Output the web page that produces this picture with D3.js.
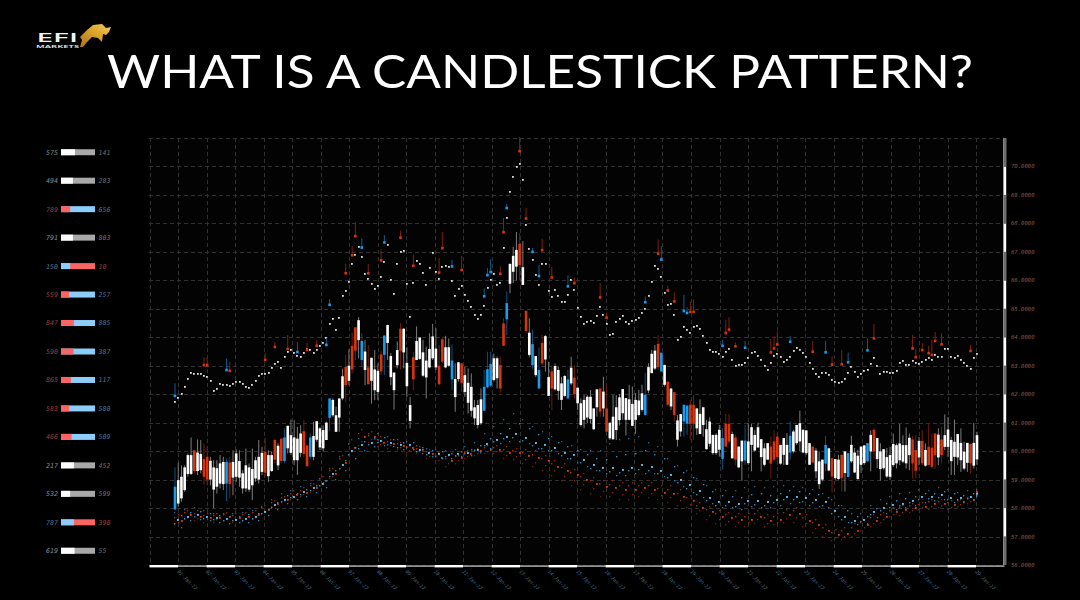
<!DOCTYPE html>
<html><head><meta charset="utf-8">
<script src="https://cdn.jsdelivr.net/npm/d3@7"></script>
<style>html,body{margin:0;padding:0;background:#000;overflow:hidden}svg{display:block}</style>
</head><body><div id="chart"></div>
<script>
const priceTicks=[70,69,68,67,66,65,64,63,62,61,60,59,58,57,56];
const dayLabels=["01","02","03","04","05","06","07","08","09","10","11","12","13","14","15","16","17","18","19","20","21","22","23","24","25","26","27","28","29"].map(d=>d+"-Jan-17");
const leftValues=["575","494","789","791","150","559","847","590","865","583","466","217","532","787","619"];
const rightValues=["141","283","656","803","10","257","885","387","117","580","509","452","599","390","55"];
const rowKinds=["w","w","r","w","b","r","r","r","r","r","r","w","w","b","w"];
const rowShares=[.41,.35,.27,.35,.27,.24,.38,.37,.29,.24,.31,.38,.27,.38,.40];
const blueCandles=[0,16,34,42,48,58,65,86,96,97,98,103,111,113,122,146,151,158,159,170,177,191,202,209,215];
const redCandles=[6,9,10,17,28,31,33,40,41,53,55,56,60,64,70,74,82,83,89,101,102,107,109,114,117,124,132,134,150,153,155,160,161,171,172,174,185,186,187,198,204,207,217,229,230,232,234,235,236,238,247];
const bodyTop=[58.75,58.98,59.1,59.43,59.86,59.86,60.03,59.95,59.9,59.72,
59.8,59.66,59.43,59.4,59.57,59.62,59.62,59.6,59.62,59.92,
59.65,59.22,59.5,59.43,59.37,59.68,59.8,59.94,59.98,59.86,
59.86,60.39,60.19,60.44,60.48,60.89,60.56,60.48,60.44,60.62,
60.7,60.2,60.48,60.53,61.05,60.8,60.74,61.0,61.85,61.8,
61.26,61.85,62.63,62.96,63.0,63.7,64.35,64.6,63.87,63.5,
62.94,63.28,62.87,62.82,63.4,64.06,64.43,63.34,62.76,63.55,
64.3,64.3,63.1,61.62,63.3,63.87,63.99,63.47,63.18,63.59,
64.03,63.6,63.0,63.93,63.65,63.65,63.18,62.53,63.12,63.08,
62.67,62.4,62.26,61.54,61.62,61.82,62.26,62.88,63.06,63.26,
63.26,63.02,64.49,65.2,66.58,66.86,67.07,67.28,66.46,64.93,
64.16,63.76,63.34,62.85,63.8,64.04,62.6,62.8,62.99,62.85,
62.38,62.64,62.52,62.93,62.58,62.23,61.68,61.8,61.91,61.91,
61.5,62.17,62.2,62.09,61.5,61.0,61.21,61.54,61.89,62.18,
61.86,61.82,61.66,61.8,61.78,62.03,61.98,62.95,63.42,63.53,
63.77,63.46,63.03,62.44,62.2,62.07,61.08,61.3,61.63,61.6,
61.63,61.63,61.5,61.31,61.54,60.77,61.04,60.57,60.57,60.75,
60.46,60.96,60.96,60.6,60.48,60.16,60.37,60.37,60.34,60.84,
60.57,60.84,60.42,60.1,60.28,60.16,60.34,60.51,60.22,60.46,
60.22,60.54,60.69,60.92,60.98,60.75,60.73,60.28,60.16,60.02,
59.64,59.7,60.22,60.1,59.75,59.72,59.7,59.87,59.99,59.93,
60.22,59.95,59.84,60.16,60.2,60.28,60.57,60.75,60.46,59.99,
60.07,59.79,59.86,60.25,60.21,60.27,60.21,60.21,60.47,60.41,
60.04,60.36,60.36,60.04,60.15,60.12,60.62,60.58,60.41,60.56,
60.76,60.39,60.33,60.6,60.29,59.98,60.29,60.25,60.29,60.56];
const bodyBottom=[57.95,58.16,58.34,58.63,59.2,59.2,59.3,59.3,59.33,59.1,
59.0,59.0,58.65,58.75,58.86,58.84,58.86,58.84,59.07,59.1,
59.07,58.69,58.69,58.65,58.8,59.04,59.0,59.27,59.24,59.12,
59.3,59.7,59.5,59.65,59.65,60.1,59.94,59.68,59.68,59.94,
59.9,59.47,59.8,59.8,60.4,60.13,60.1,60.39,61.17,61.26,
60.68,61.18,61.85,62.32,62.47,62.87,63.53,63.9,63.2,62.85,
62.35,62.47,62.14,62.08,62.8,63.38,63.8,62.6,62.14,63.02,
63.53,63.47,62.28,61.06,62.52,63.2,63.24,62.65,62.59,62.94,
63.26,62.94,62.35,63.14,62.94,63.0,62.52,61.9,62.53,62.4,
62.08,61.7,61.42,61.15,60.92,60.98,61.42,62.24,62.3,62.5,
62.56,62.2,63.7,64.63,65.88,66.3,66.48,66.54,65.84,64.22,
63.38,63.02,62.67,62.2,63.08,63.22,61.94,62.2,62.17,62.12,
61.8,61.94,61.85,62.38,62.0,61.68,60.92,61.1,61.18,61.13,
60.77,61.54,61.39,61.5,60.68,60.45,60.42,60.74,61.09,61.33,
61.1,61.1,60.89,61.1,61.27,61.45,61.27,62.13,62.74,62.9,
62.95,62.8,62.33,61.63,61.57,61.27,60.4,60.69,61.04,60.96,
60.96,60.96,60.8,60.6,60.92,60.07,60.26,59.93,59.93,60.05,
59.73,60.16,60.34,59.75,59.7,59.43,59.64,59.67,59.58,60.22,
60.02,60.13,59.79,59.52,59.7,59.56,59.7,59.79,59.56,59.87,
59.52,59.95,59.99,60.28,60.34,59.95,59.93,59.52,59.6,59.29,
58.84,59.0,59.56,59.32,59.11,59.05,59.02,59.05,59.23,59.09,
59.64,59.25,59.02,59.52,59.58,59.64,59.99,59.99,59.72,59.37,
59.4,59.11,59.1,59.51,59.57,59.68,59.63,59.57,59.86,59.57,
59.31,59.78,59.57,59.49,59.51,59.45,59.86,59.78,59.86,60.15,
60.15,59.65,59.8,59.78,59.68,59.39,59.59,59.57,59.49,59.71];
const wickHigh=[59.43,59.6,59.5,59.5,59.92,60.48,60.03,60.41,60.39,60.27,
60.15,59.8,59.68,59.68,59.86,59.8,59.74,59.8,60.03,60.06,
60.03,59.33,60.09,59.57,60.09,59.8,60.39,60.15,60.48,60.03,
59.98,60.44,60.27,60.44,60.8,60.89,61.11,61.09,60.85,60.91,
61.09,60.21,60.62,61.03,61.05,60.85,60.91,61.03,61.85,61.85,
61.56,61.85,62.9,63.38,63.58,64.16,64.35,64.71,64.14,63.91,
63.73,63.28,63.55,63.08,63.53,64.08,64.44,63.44,62.76,63.85,
64.49,64.32,63.65,61.9,63.49,64.38,63.99,63.91,63.67,64.14,
64.47,64.32,63.73,64.02,64.05,63.96,63.75,63.08,63.12,63.08,
62.96,62.91,62.73,61.8,61.8,62.2,62.85,63.49,63.49,63.43,
63.32,63.32,64.67,65.6,66.58,67.17,67.7,67.66,67.38,64.93,
64.67,64.27,63.34,63.64,64.08,64.08,63.14,63.02,63.08,62.96,
62.61,62.67,62.85,63.32,63.02,62.23,61.85,61.97,61.97,62.15,
61.5,62.17,62.2,62.61,62.32,61.0,61.97,61.97,62.0,62.18,
61.86,62.33,62.27,62.04,62.15,62.33,62.74,63.09,63.56,63.73,
64.08,63.46,63.03,62.44,62.2,62.07,61.27,61.3,61.63,61.63,
61.8,61.98,61.5,61.82,61.54,61.1,61.19,60.57,60.63,60.92,
60.81,61.31,61.31,60.69,60.57,60.16,60.37,60.92,60.98,60.96,
60.75,61.0,60.42,60.28,60.28,60.51,60.73,60.63,60.22,60.46,
60.63,61.04,60.75,60.92,61.42,60.77,60.73,60.28,60.16,60.11,
59.99,59.7,60.54,60.1,59.75,59.72,59.87,59.87,59.99,59.93,
60.54,60.11,60.05,60.16,60.22,60.28,60.73,60.81,60.46,60.28,
60.07,60.11,60.15,60.62,60.27,60.95,60.56,60.83,60.62,60.53,
60.56,60.5,60.74,60.27,60.95,60.62,60.62,60.8,60.85,61.29,
61.2,60.5,61.11,60.6,60.8,60.33,60.29,60.25,60.99,60.68];
const wickLow=[57.95,58.05,58.22,58.57,59.1,59.16,59.22,59.16,59.22,58.8,
58.8,58.8,57.99,58.51,58.69,58.63,58.24,58.34,58.45,58.92,
58.75,58.51,58.57,58.57,58.28,58.92,58.86,59.16,59.1,58.92,
59.27,59.57,59.33,59.57,59.57,59.92,59.86,59.51,59.16,59.8,
59.8,59.47,59.71,59.68,60.33,60.04,59.98,60.39,60.71,61.21,
60.68,60.68,61.79,61.73,62.32,62.73,63.2,63.26,62.96,62.32,
62.35,61.67,61.79,61.79,62.67,62.67,63.2,62.32,61.46,62.91,
62.87,62.91,61.91,60.8,62.14,63.2,63.2,62.61,61.85,62.91,
63.2,62.85,62.32,63.08,62.91,62.96,62.14,61.38,62.44,62.08,
61.91,61.32,61.21,60.92,60.8,60.92,61.42,62.2,62.26,62.44,
62.2,62.05,63.7,64.08,65.55,65.9,66.0,66.0,65.84,64.14,
63.3,62.9,62.61,62.2,63.02,62.79,61.94,61.44,62.12,61.8,
61.44,61.91,61.85,62.32,61.85,61.44,60.86,60.8,60.98,60.98,
60.74,61.21,61.21,61.21,60.68,60.39,60.39,60.39,60.9,61.1,
60.55,61.08,60.87,60.61,61.22,61.39,61.27,62.04,62.74,62.85,
62.85,62.8,62.27,61.57,61.45,61.04,60.16,60.51,60.51,60.57,
60.4,60.4,60.57,60.6,60.51,60.05,60.16,59.87,59.87,59.81,
59.35,60.16,60.28,59.72,59.52,59.4,58.96,59.52,59.52,59.29,
59.99,60.11,59.29,59.46,59.7,59.05,59.64,59.52,59.52,59.52,
59.52,59.7,59.93,60.22,59.99,59.93,59.87,59.52,59.58,59.05,
58.67,58.94,59.29,59.29,58.55,58.99,58.99,58.58,58.58,59.09,
59.58,59.23,58.99,59.23,59.52,59.64,59.29,59.72,59.4,58.96,
59.35,59.05,58.98,59.45,59.39,59.51,59.57,59.39,59.33,59.04,
59.04,59.51,59.51,59.45,59.51,59.39,59.39,59.51,59.57,60.04,
59.8,59.16,59.16,59.51,59.27,59.33,59.27,59.22,59.39,59.51];
const upperDots=[61.74,61.87,62.0,62.26,62.52,62.75,62.73,62.72,62.72,62.66,
62.61,62.46,62.1,62.19,62.37,62.34,62.32,62.3,62.35,62.44,
62.44,62.35,62.26,62.22,62.31,62.47,62.65,62.7,62.7,62.75,
62.94,63.05,63.14,62.94,63.3,63.5,63.55,63.45,63.35,63.3,
63.45,63.6,63.55,63.45,63.55,63.7,63.8,63.99,64.47,64.63,
64.26,64.68,65.45,65.64,65.96,66.56,66.88,67.18,66.84,66.23,
66.04,65.89,65.71,65.82,66.13,66.66,67.25,66.02,65.52,66.58,
67.01,67.02,65.88,64.73,65.91,66.68,66.58,66.25,65.84,66.44,
66.95,66.31,66.05,66.46,66.52,66.47,65.98,65.47,65.7,65.81,
65.5,65.29,65.08,64.79,64.64,64.8,65.1,65.72,66.02,66.22,
65.84,65.9,67.15,68.2,69.1,69.62,69.97,70.1,69.53,67.95,
67.12,66.71,66.19,65.83,66.57,66.59,65.63,65.43,65.66,65.47,
65.24,65.24,65.5,66.0,65.68,65.03,64.7,64.47,64.54,64.57,
64.52,64.76,65.08,64.79,64.47,64.07,64.12,64.55,64.66,64.76,
64.55,64.47,64.56,64.61,64.69,64.84,64.99,65.46,65.95,66.49,
66.4,66.12,65.57,65.15,65.17,64.8,63.89,64.01,64.37,64.27,
64.16,64.37,64.4,64.29,64.06,63.79,63.56,63.49,63.49,63.43,
63.32,63.49,63.59,63.2,62.99,63.04,63.04,63.11,63.26,63.45,
63.5,63.33,63.19,63.0,62.85,63.11,63.33,63.42,63.31,63.13,
63.19,63.32,63.51,63.61,63.54,63.45,63.32,63.11,62.88,62.7,
62.61,62.75,62.76,62.69,62.51,62.42,62.41,62.42,62.54,62.75,
62.95,62.77,62.61,62.7,62.81,62.84,63.06,63.29,63.01,62.73,
62.78,62.78,62.75,62.76,62.83,63.1,63.17,63.04,63.04,63.17,
63.09,63.05,63.12,63.2,63.28,63.2,63.38,63.3,63.3,63.59,
63.6,63.3,63.27,63.34,63.2,63.1,62.98,62.9,63.26,63.41];
const redSignalAt=[9,10,17,28,31,35,41,44,53,55,56,60,64,70,74,82,83,89,101,102,107,109,114,117,124,132,134,150,153,155,160,161,171,172,174,185,186,187,198,204,207,217,229,230,232,234,235,236,238,247];
const redSignalBase=[63.02,63.02,62.82,63.2,63.66,63.59,63.55,63.7,66.25,66.88,67.55,66.25,66.7,67.5,66.51,66.27,67.13,66.36,66.23,67.69,70.54,68.17,67.06,66.1,65.9,65.4,64.69,66.94,65.64,65.26,64.89,64.89,64.15,64.27,63.68,63.47,63.61,63.75,63.49,63.04,63.05,63.96,63.61,63.3,63.55,63.44,63.38,63.87,63.75,63.52];
const redSignalTip=[63.3,63.3,63.14,63.45,63.83,64.08,63.8,63.9,66.58,67.21,68.04,66.58,67.09,67.74,66.9,66.78,67.69,66.86,66.49,68.19,71.03,68.54,67.46,66.46,66.1,65.9,64.87,67.44,65.81,65.58,65.25,65.33,64.61,64.7,63.82,63.93,64.05,64.2,63.87,63.32,63.56,64.46,64.08,63.58,63.79,63.7,63.91,64.18,64.14,63.73];
const blueSignalAt=[0,16,38,47,48,58,65,86,96,97,98,103,111,113,122,146,151,158,159,170,177,191,202,209,215];
const blueSignalBase=[61.94,62.85,63.48,63.73,65.14,67.15,67.33,66.49,65.44,66.18,66.29,68.54,67.0,66.15,65.79,65.23,66.73,64.92,64.85,63.7,63.63,63.84,63.47,63.12,63.54];
const blueSignalTip=[62.38,63.25,63.83,63.97,65.34,67.48,67.59,66.72,65.72,66.43,66.74,68.69,67.13,66.54,66.17,65.43,67.2,65.49,65.05,63.91,63.87,64.05,63.87,63.46,63.96];
const blueUpper=[57.85,57.95,58.0,57.9,57.8,57.8,57.8,57.85,57.9,58.05,58.3,58.5,58.6,58.75,58.85,59.05,59.4,59.8,60.25,60.45,60.55,60.6,60.5,60.4,60.35,60.2,60.1,60.05,60.0,60.05,60.15,60.3,60.6,60.85,61.1,61.3,61.1,60.85,60.7,60.5,60.35,60.2,60.05,60.0,60.0,60.25,60.4,60.45,60.5,60.3,60.15,59.75,59.5,59.3,59.05,58.8,58.65,58.6,58.6,58.7,58.75,58.7,58.75,58.8,58.75,58.7,58.65,58.5,58.3,58.1,57.8,57.8,58.1,58.3,58.4,58.5,58.55,58.65,58.6,58.7,58.65,58.55,58.6,58.65];
const blueInner=[57.72,57.82,57.88,57.8,57.72,57.7,57.7,57.75,57.8,57.95,58.2,58.42,58.5,58.65,58.78,58.95,59.3,59.65,60.12,60.32,60.42,60.48,60.4,60.3,60.28,60.12,60.02,59.98,59.92,59.98,60.05,60.18,60.42,60.62,60.8,60.95,60.78,60.58,60.45,60.3,60.15,60.02,59.88,59.75,59.7,59.82,59.88,59.92,60.0,59.88,59.72,59.45,59.25,59.05,58.82,58.58,58.42,58.4,58.38,58.48,58.5,58.45,58.52,58.6,58.58,58.52,58.48,58.35,58.1,57.9,57.68,57.7,57.98,58.15,58.25,58.32,58.4,58.52,58.5,58.58,58.5,58.45,58.5,58.58];
const blueMiddle=[57.6,57.7,57.75,57.7,57.65,57.62,57.6,57.62,57.7,57.85,58.1,58.3,58.4,58.55,58.7,58.85,59.2,59.5,60.0,60.2,60.3,60.35,60.3,60.2,60.2,60.05,59.95,59.9,59.85,59.9,59.95,60.05,60.25,60.4,60.5,60.6,60.45,60.3,60.2,60.1,59.95,59.85,59.7,59.5,59.4,59.4,59.35,59.4,59.5,59.45,59.3,59.15,59.0,58.8,58.6,58.35,58.2,58.2,58.15,58.25,58.25,58.2,58.3,58.4,58.4,58.35,58.3,58.2,57.9,57.7,57.55,57.6,57.85,58.0,58.1,58.15,58.25,58.4,58.4,58.45,58.35,58.35,58.4,58.5];
const blueBelow=[57.45,57.62,57.68,57.62,57.58,57.54,57.55,57.56,57.62,57.8,58.02,58.22,58.35,58.48,58.62,58.78,59.1,59.4,59.88,60.1,60.22,60.28,60.22,60.12,60.12,59.98,59.88,59.82,59.8,59.85,59.9,60.0,60.18,60.32,60.42,60.48,60.35,60.2,60.1,60.0,59.85,59.72,59.58,59.4,59.3,59.28,59.25,59.3,59.35,59.32,59.2,59.05,58.88,58.68,58.48,58.25,58.1,58.1,58.05,58.15,58.12,58.1,58.2,58.28,58.3,58.22,58.18,58.1,57.8,57.6,57.48,57.52,57.75,57.9,58.02,58.08,58.18,58.3,58.32,58.38,58.28,58.28,58.32,58.45];
const blueLower=[57.3,57.55,57.6,57.55,57.5,57.45,57.5,57.5,57.55,57.75,57.95,58.15,58.3,58.4,58.55,58.7,59.0,59.3,59.75,60.0,60.15,60.2,60.15,60.05,60.05,59.9,59.8,59.75,59.75,59.8,59.85,59.95,60.1,60.25,60.35,60.35,60.25,60.1,60.0,59.9,59.75,59.6,59.45,59.3,59.2,59.15,59.15,59.2,59.2,59.2,59.1,58.95,58.75,58.55,58.35,58.15,58.0,58.0,57.95,58.05,58.0,58.0,58.1,58.15,58.2,58.1,58.05,58.0,57.7,57.5,57.4,57.45,57.65,57.8,57.95,58.0,58.1,58.2,58.25,58.3,58.2,58.2,58.25,58.4];
const redUpper=[57.75,57.9,57.9,57.8,57.8,57.85,57.8,57.85,57.9,58.1,58.25,58.4,58.6,58.7,58.85,59.1,59.4,59.85,60.4,60.75,60.7,60.5,60.4,60.3,60.2,60.15,60.05,59.95,59.85,59.85,60.0,60.1,60.2,60.2,60.15,60.1,60.05,60.0,59.85,59.65,59.55,59.35,59.2,59.05,58.95,58.95,58.9,58.9,58.9,58.9,58.8,58.8,58.65,58.45,58.2,58.05,57.9,57.85,57.8,57.8,57.9,57.75,57.8,57.95,58.0,57.75,57.6,57.4,57.25,57.3,57.45,57.6,57.75,57.85,58.0,58.1,58.15,58.2,58.3,58.3,58.25,58.3,58.4,58.6];
const redInner=[57.65,57.82,57.8,57.72,57.72,57.78,57.72,57.78,57.82,58.02,58.2,58.35,58.52,58.62,58.78,59.02,59.3,59.72,60.25,60.62,60.6,60.4,60.32,60.25,60.15,60.1,59.98,59.85,59.75,59.8,59.95,60.05,60.12,60.12,60.05,60.02,59.95,59.88,59.75,59.55,59.42,59.25,59.1,58.95,58.85,58.82,58.78,58.78,58.8,58.78,58.68,58.65,58.52,58.35,58.1,57.95,57.8,57.75,57.7,57.7,57.8,57.65,57.7,57.85,57.9,57.65,57.5,57.3,57.15,57.2,57.32,57.5,57.65,57.78,57.92,58.02,58.08,58.12,58.22,58.22,58.18,58.25,58.35,58.58];
const redMiddle=[57.55,57.75,57.7,57.65,57.65,57.7,57.65,57.7,57.75,57.95,58.15,58.3,58.45,58.55,58.7,58.95,59.2,59.6,60.1,60.5,60.5,60.3,60.25,60.2,60.1,60.05,59.9,59.75,59.65,59.75,59.9,60.0,60.05,60.05,59.95,59.95,59.85,59.75,59.65,59.45,59.3,59.15,59.0,58.85,58.75,58.7,58.65,58.65,58.7,58.65,58.55,58.5,58.4,58.25,58.0,57.85,57.7,57.65,57.6,57.6,57.7,57.55,57.6,57.75,57.8,57.55,57.4,57.2,57.05,57.1,57.2,57.4,57.55,57.7,57.85,57.95,58.0,58.05,58.15,58.15,58.1,58.2,58.3,58.55];
const redBelow=[57.48,57.68,57.62,57.58,57.58,57.62,57.58,57.62,57.68,57.88,58.1,58.25,58.38,58.48,58.62,58.88,59.12,59.5,59.98,60.35,60.4,60.22,60.18,60.12,60.02,59.98,59.82,59.65,59.55,59.65,59.82,59.92,59.98,59.98,59.85,59.82,59.7,59.6,59.48,59.3,59.12,58.98,58.82,58.68,58.58,58.55,58.48,58.48,58.55,58.5,58.42,58.35,58.25,58.12,57.9,57.72,57.58,57.52,57.48,57.48,57.58,57.45,57.5,57.62,57.65,57.45,57.28,57.1,56.95,57.0,57.1,57.3,57.45,57.6,57.78,57.85,57.92,58.0,58.05,58.08,58.02,58.12,58.22,58.5];
const redLower=[57.4,57.6,57.55,57.5,57.5,57.55,57.5,57.55,57.6,57.8,58.05,58.2,58.3,58.4,58.55,58.8,59.05,59.4,59.85,60.2,60.3,60.15,60.1,60.05,59.95,59.9,59.75,59.55,59.45,59.55,59.75,59.85,59.9,59.9,59.75,59.7,59.55,59.45,59.3,59.15,58.95,58.8,58.65,58.5,58.4,58.4,58.3,58.3,58.4,58.35,58.3,58.2,58.1,58.0,57.8,57.6,57.45,57.4,57.35,57.35,57.45,57.35,57.4,57.5,57.5,57.35,57.15,57.0,56.85,56.9,57.0,57.2,57.35,57.5,57.7,57.75,57.85,57.95,57.95,58.0,57.95,58.05,58.15,58.45];

const W=1080,H=600;
const y=d3.scaleLinear().domain([56,71]).range([565,138]);
const xDay=d3.scaleLinear().domain([0,30]).range([149.5,1004.5]);
const x=d3.scaleLinear().domain([0,249]).range([175,977]);
const svg=d3.select("#chart").append("svg").attr("width",W).attr("height",H).attr("viewBox",`0 0 ${W} ${H}`);
svg.append("rect").attr("width",W).attr("height",H).attr("fill","#000");
const defs=svg.append("defs");
const gold=defs.append("linearGradient").attr("id","gold").attr("x1",0).attr("y1",1).attr("x2",1).attr("y2",0);
gold.append("stop").attr("offset",0).attr("stop-color","#a9741a");
gold.append("stop").attr("offset",.6).attr("stop-color","#e0a82e");
gold.append("stop").attr("offset",1).attr("stop-color","#f3cd62");

// title + logo
svg.append("text").attr("x",540).attr("y",88).attr("text-anchor","middle").attr("fill","#fff")
 .attr("font-family","Lato").attr("font-size",46).attr("textLength",866).attr("lengthAdjust","spacingAndGlyphs").text("WHAT IS A CANDLESTICK PATTERN?");
const logo=svg.append("g");
logo.append("text").attr("x",36.5).attr("y",41.5).attr("fill","#f2f2f2").attr("font-family","Open Sans").attr("font-weight",600)
 .attr("font-size",12.5).attr("textLength",41.5).attr("lengthAdjust","spacingAndGlyphs").text("EFI");
logo.append("text").attr("x",36).attr("y",48.2).attr("fill","#d5d5d5").attr("font-family","Open Sans").attr("font-weight",700)
 .attr("font-size",3.7).attr("textLength",43).attr("lengthAdjust","spacingAndGlyphs").text("MARKETS");
logo.append("path").attr("fill","url(#gold)").attr("d","M80 47L82 40L80 37L87 30L93 25L102 24L106 28L111 27L109 32L106 35L103 34L102 42L98 38L92 37L87 42L83 47Z");

// plot background and grid
const plot=svg.append("g");
plot.append("rect").attr("x",149).attr("y",138).attr("width",855).attr("height",427).attr("fill","#030303");
const grid=plot.append("g").attr("stroke","#303030").attr("stroke-width",1).attr("stroke-dasharray","4 3");
grid.selectAll(".h").data(d3.range(56,72)).join("line").attr("x1",149).attr("x2",1003).attr("y1",d=>Math.round(y(d))+.5).attr("y2",d=>Math.round(y(d))+.5);
grid.selectAll(".v").data(d3.range(0,30)).join("line").attr("y1",138).attr("y2",565).attr("x1",d=>Math.round(xDay(d))+.5).attr("x2",d=>Math.round(xDay(d))+.5);

// axis bands
const bandR=svg.append("g");
bandR.append("rect").attr("x",1003).attr("y",y(71)).attr("width",.9).attr("height",y(56)-y(71)).attr("fill","#aaa");
bandR.selectAll("rect.s").data(d3.range(56,71)).join("rect").attr("class","s")
 .attr("x",d=>(d-57)%2===0?1004:1003.5).attr("width",d=>(d-57)%2===0?2.2:3)
 .attr("y",d=>y(d+1)).attr("height",d=>y(d)-y(d+1))
 .attr("fill",d=>(d-57)%2===0?"#fff":"#6e6e6e");
const bandB=svg.append("g");
bandB.selectAll("rect").data(d3.range(0,30)).join("rect")
 .attr("x",d=>xDay(d)).attr("width",d=>xDay(d+1)-xDay(d))
 .attr("y",d=>d%2?565.3:565).attr("height",d=>d%2?1.6:2.4).attr("fill",d=>d%2?"#a0a0a0":"#fff");

// price labels
svg.append("g").attr("opacity",.99).selectAll("text").data(priceTicks).join("text").attr("x",1011).attr("y",d=>y(d)+2)
 .attr("font-family","DejaVu Sans Mono").attr("font-size",5.6).attr("font-style","italic").attr("fill","#8a5a4c")
 .text(d=>d3.format(".4f")(d));

// date labels
svg.append("g").attr("opacity",.99).selectAll("text").data(dayLabels).join("text")
 .attr("transform",(d,i)=>`translate(${xDay(i+1)-1},${572}) rotate(45)`)
 .attr("font-family","DejaVu Sans Mono").attr("font-size",4.8).attr("font-style","italic").attr("fill","#4f7690").text(d=>d);

// candles
const kindOf=i=>blueCandles.includes(i)?"b":redCandles.includes(i)?"r":"w";
const bodyCol={w:"#fff",b:"#1b9bec",r:"#d8340f"}, wickCol={w:"#7c7c7c",b:"#0e4f7a",r:"#6f1c0b"};
const candles=d3.range(bodyTop.length).map(i=>({i,k:kindOf(i),t:bodyTop[i],b:bodyBottom[i],h:wickHigh[i],l:wickLow[i]}));
const cg=svg.append("g");
cg.selectAll("line").data(candles).join("line").attr("x1",d=>x(d.i)).attr("x2",d=>x(d.i))
 .attr("y1",d=>y(d.h)).attr("y2",d=>y(d.l)).attr("stroke",d=>wickCol[d.k]).attr("stroke-width",1);
cg.selectAll("rect").data(candles).join("rect").attr("x",d=>x(d.i)-1.3).attr("width",2.6)
 .attr("y",d=>y(d.t)).attr("height",d=>y(d.b)-y(d.t)).attr("fill",d=>bodyCol[d.k]);

// upper dots
svg.append("g").selectAll("rect").data(upperDots).join("rect").attr("x",(d,i)=>Math.round(x(i)-.9)).attr("y",d=>Math.round(y(d)-.9))
 .attr("width",1.8).attr("height",1.8).attr("fill","#dcdcdc");

// signals
function signals(at,base,tip,col,stem){
 const g=svg.append("g");
 const rows=at.map((i,k)=>({i,b:base[k],t:tip[k]}));
 g.selectAll("line").data(rows).join("line").attr("x1",d=>x(d.i)).attr("x2",d=>x(d.i)).attr("y1",d=>y(d.b)).attr("y2",d=>y(d.t)).attr("stroke",stem).attr("stroke-width",1);
 g.selectAll("rect").data(rows).join("rect").attr("x",d=>x(d.i)-1.3).attr("y",d=>y(d.b)-1.3).attr("width",2.6).attr("height",2.6).attr("fill",col);
}
signals(redSignalAt,redSignalBase,redSignalTip,"#d8340f","#7e200c");
signals(blueSignalAt,blueSignalBase,blueSignalTip,"#1b9bec","#0f5c8c");

// lower scatter clouds
function cloud(vals,offset,col,size){
 svg.append("g").selectAll("rect").data(vals).join("rect").attr("x",(d,k)=>Math.round(x(Math.min(k*3+offset,249))-size/2))
  .attr("y",d=>Math.round(y(d)-size/2)).attr("width",size).attr("height",size).attr("fill",col);
}
cloud(redUpper,1,"#8a2610",1.4);
cloud(redLower,0,"#6a1d0c",1.3);
cloud(redInner,0,"#a82d12",1.4);
cloud(redBelow,1,"#8a2610",1.3);
cloud(redMiddle,2,"#dc3c16",1.8);
cloud(blueUpper,0,"#2b6488",1.3);
cloud(blueInner,2,"#3a86b6",1.4);
cloud(blueBelow,0,"#3a86b6",1.4);
cloud(blueLower,2,"#2f7aa8",1.3);
cloud(blueMiddle,1,"#62c0f0",1.9);

// left mini bars
const rowY=d3.scaleBand().domain(leftValues.map((d,i)=>i)).range([y(71),y(56)]);
const barX=d3.scaleLinear().domain([0,1]).range([61,95]);
const rowCol={w:["#fff","#aaa"],r:["#ff6565","#8fd0ff"],b:["#8fd0ff","#ff6565"]};
const txtCol={w:["#929292","#757575"],r:["#a04040","#527a96"],b:["#527a96","#a04040"]};
const rows=svg.append("g").attr("opacity",.99);
leftValues.forEach((v,i)=>{
 const cy=rowY(i)+rowY.bandwidth()/2, k=rowKinds[i];
 rows.append("rect").attr("x",barX(0)).attr("y",cy-3).attr("height",6).attr("width",barX(1)-barX(0)).attr("fill",rowCol[k][1]);
 rows.append("rect").attr("x",barX(0)).attr("y",cy-3).attr("height",6).attr("width",barX(rowShares[i])-barX(0)).attr("fill",rowCol[k][0]);
 rows.append("text").attr("x",58).attr("y",cy+2.4).attr("text-anchor","end").attr("font-family","DejaVu Sans Mono").attr("font-style","italic").attr("font-size",6.6).attr("fill",txtCol[k][0]).text(v);
 rows.append("text").attr("x",98.5).attr("y",cy+2.4).attr("font-family","DejaVu Sans Mono").attr("font-style","italic").attr("font-size",6.6).attr("fill",txtCol[k][1]).text(rightValues[i]);
});
</script></body></html>
